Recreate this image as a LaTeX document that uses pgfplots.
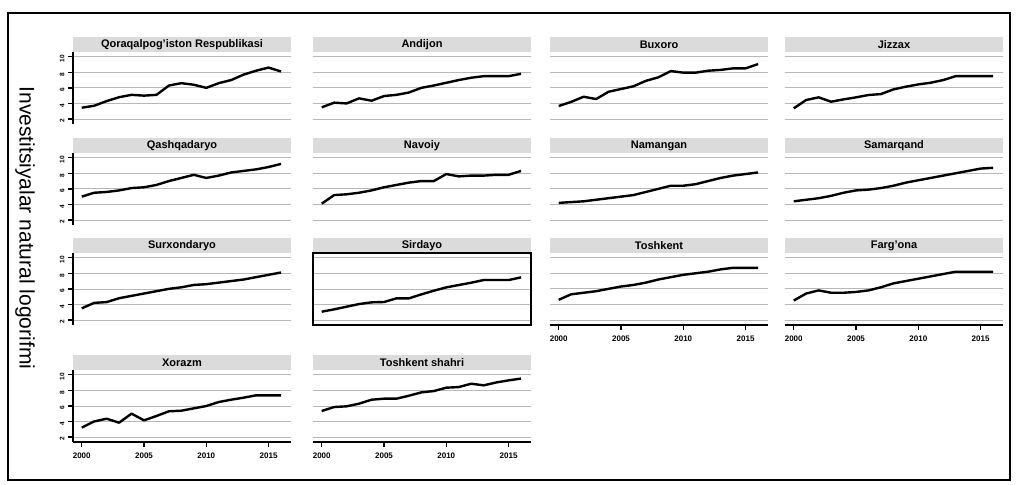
\documentclass[border=0pt]{standalone}
\usepackage{pgfplots}
\pgfplotsset{compat=1.18}
\usepackage{pgfplotstable}
\usepackage{fontspec}
\setmainfont{Liberation Sans}
\definecolor{titlebg}{gray}{0.86}
\definecolor{gridc}{gray}{0.72}

\pgfplotstableread{
year qq an bx jz qs nv nm sm sx sd tk fg xr ts
2000 3.45 3.5 3.67 3.37 5.0 4.1 4.2 4.4 3.5 3.07 4.6 4.5 3.2 5.34
2001 3.7 4.1 4.2 4.44 5.5 5.2 4.3 4.6 4.2 3.37 5.3 5.4 4.0 5.85
2002 4.3 4.0 4.86 4.78 5.6 5.3 4.4 4.8 4.3 3.71 5.5 5.8 4.35 5.94
2003 4.8 4.65 4.56 4.22 5.8 5.5 4.6 5.1 4.8 4.05 5.7 5.5 3.84 6.28
2004 5.1 4.35 5.5 4.52 6.1 5.8 4.8 5.5 5.1 4.27 6.0 5.5 5.0 6.79
2005 5.0 4.95 5.85 4.78 6.2 6.2 5.0 5.8 5.4 4.31 6.3 5.6 4.14 6.92
2006 5.1 5.1 6.2 5.08 6.5 6.5 5.2 5.9 5.7 4.78 6.5 5.8 4.7 6.92
2007 6.3 5.4 6.9 5.2 7.0 6.8 5.6 6.1 6.0 4.78 6.8 6.2 5.3 7.3
2008 6.6 6.0 7.35 5.8 7.4 7.0 6.0 6.4 6.2 5.29 7.2 6.7 5.38 7.73
2009 6.4 6.3 8.15 6.15 7.8 7.0 6.4 6.8 6.5 5.76 7.5 7.0 5.68 7.9
2010 6.0 6.65 7.95 6.44 7.4 7.9 6.4 7.1 6.6 6.19 7.8 7.3 5.98 8.33
2011 6.6 7.0 7.95 6.66 7.7 7.6 6.6 7.4 6.8 6.49 8.0 7.6 6.49 8.41
2012 7.0 7.3 8.2 7.0 8.1 7.7 7.0 7.7 7.0 6.79 8.2 7.9 6.79 8.84
2013 7.7 7.5 8.3 7.5 8.3 7.7 7.4 8.0 7.2 7.13 8.5 8.2 7.05 8.63
2014 8.2 7.5 8.5 7.5 8.5 7.8 7.7 8.3 7.5 7.13 8.7 8.2 7.35 9.0
2015 8.6 7.5 8.5 7.5 8.8 7.8 7.9 8.6 7.8 7.13 8.7 8.2 7.35 9.27
2016 8.1 7.8 9.05 7.5 9.2 8.3 8.1 8.7 8.1 7.47 8.7 8.2 7.35 9.5
}\data

\pgfplotsset{
  panel/.style={
    anchor=north west, scale only axis, width=218pt, height=72pt,
    xmin=1999.3, xmax=2016.8, ymin=1.36, ymax=10.6,
    axis lines*=left,
    x axis line style={draw=none}, y axis line style={draw=none},
    xtick={2000,2005,2010,2015}, ytick={2,4,6,8,10},
    xticklabels={}, yticklabels={},
    major tick length=0pt, tick style={draw=none},
    ymajorgrids, grid style={gridc, line width=0.7pt},
    clip=false,
  },
  ylab/.style={
    y axis line style={draw=black, line width=1.4pt},
    ytick style={draw=black, line width=1.4pt},
    major tick length=5pt, tick align=outside,
    yticklabels={2,4,6,8,10},
    yticklabel style={rotate=90, anchor=south, xshift=-2pt,
      font=\bfseries\fontsize{6.5}{6.5}\selectfont},
  },
  xlab/.style={
    x axis line style={draw=black, line width=1.4pt},
    xtick style={draw=black, line width=1.4pt},
    major tick length=5pt, tick align=outside,
    xticklabels={2000,2005,2010,2015},
    xticklabel style={yshift=-2pt, font=\bfseries\fontsize{8}{8}\selectfont},
  },
}

\newcommand{\panel}[5]{%
  \fill[titlebg] (#1pt,-#2pt) rectangle ++(218pt,15pt);
  \node[font=\bfseries\fontsize{11}{12}\selectfont] at ({#1pt+109pt},{-#2pt+7.5pt}) {#3};
  \begin{axis}[panel, at={(#1pt,-#2pt)}, #5]
    \addplot[black, line width=2.4pt, line join=round] table[x=year, y=#4] {\data};
  \end{axis}%
}

\begin{document}
\begin{tikzpicture}[x=1pt,y=1pt]
\path[use as bounding box] (0,0) rectangle (1016,-484);
\fill[white] (0,0) rectangle (1016,-484);
\draw[line width=1.3pt] (8,-13) rectangle (1010,-480);
\node[rotate=-90, font=\fontsize{21}{21}\selectfont] at (25,-228) {Investitsiyalar natural logorifmi};

\panel{73}{52}{Qoraqalpog'iston Respublikasi}{qq}{ylab}
\panel{313}{52}{Andijon}{an}{}
\panel{550}{52}{Buxoro}{bx}{}
\panel{785}{52}{Jizzax}{jz}{}

\panel{73}{153}{Qashqadaryo}{qs}{ylab}
\panel{313}{153}{Navoiy}{nv}{}
\panel{550}{153}{Namangan}{nm}{}
\panel{785}{153}{Samarqand}{sm}{}

\panel{73}{253}{Surxondaryo}{sx}{ylab}
\panel{313}{253}{Sirdayo}{sd}{}
\draw[line width=1.4pt] (313,-253) rectangle ++(218,-72);
\panel{550}{253}{Toshkent}{tk}{xlab}
\panel{785}{253}{Farg'ona}{fg}{xlab}

\panel{73}{370}{Xorazm}{xr}{ylab, xlab}
\panel{313}{370}{Toshkent shahri}{ts}{xlab}
\end{tikzpicture}
\end{document}
